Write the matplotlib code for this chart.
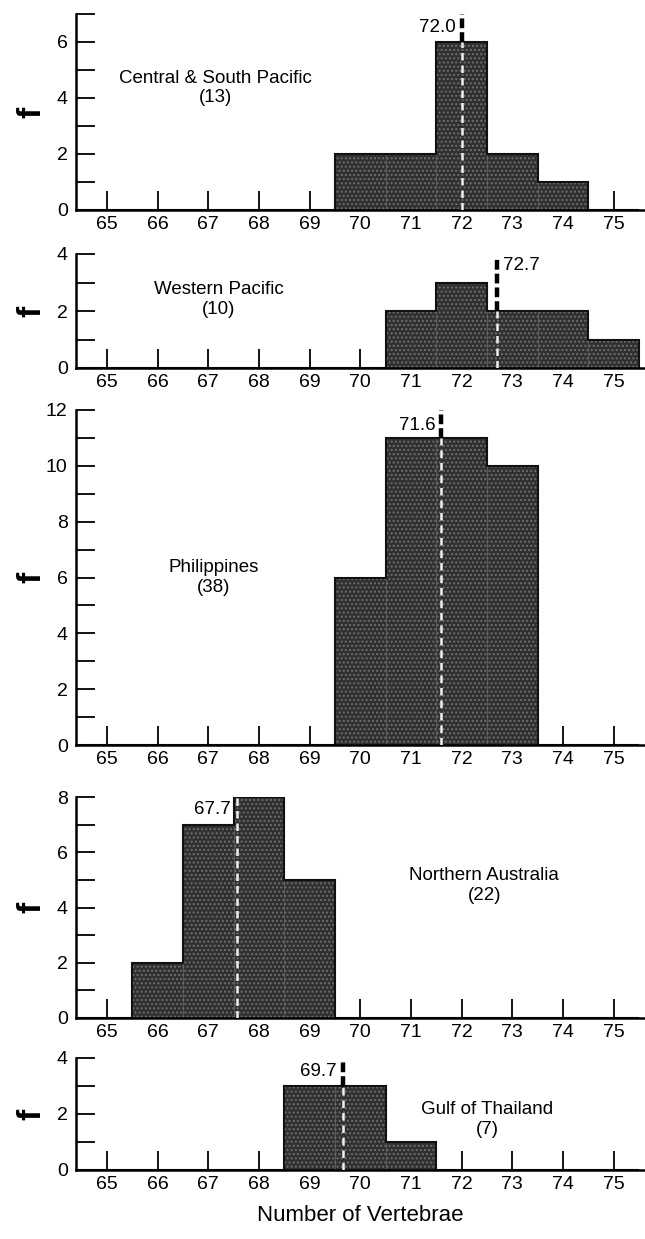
import matplotlib
matplotlib.use("Agg")
import matplotlib.pyplot as plt
import numpy as np

plt.rcParams['font.family'] = ['Liberation Sans', 'DejaVu Sans']

# ---- data ----
vertebrae = [65, 66, 67, 68, 69, 70, 71, 72, 73, 74, 75]
regions = ["Central & South Pacific", "Western Pacific", "Philippines",
           "Northern Australia", "Gulf of Thailand"]
sample_sizes = [13, 10, 38, 22, 7]
counts_central_south_pacific = [0, 0, 0, 0, 0, 2, 2, 6, 2, 1, 0]
counts_western_pacific = [0, 0, 0, 0, 0, 0, 2, 3, 2, 2, 1]
counts_philippines = [0, 0, 0, 0, 0, 6, 11, 11, 10, 0, 0]
counts_northern_australia = [0, 2, 7, 8, 5, 0, 0, 0, 0, 0, 0]
counts_gulf_of_thailand = [0, 0, 0, 0, 3, 3, 1, 0, 0, 0, 0]
means = [72.0, 72.7, 71.6, 67.7, 69.7]
mean_line_x = [72.0, 72.7, 71.6, 67.56, 69.65]
y_max = [7, 4, 12, 8, 4]

all_counts = [counts_central_south_pacific, counts_western_pacific,
              counts_philippines, counts_northern_australia,
              counts_gulf_of_thailand]

# ---- layout (figure fractions) ----
W, H = 645, 1239
fig = plt.figure(figsize=(W / 100, H / 100), dpi=100)
panel_px = [(14, 210), (254, 368), (410, 745), (797, 1018), (1058, 1170)]
left_px = 76

label_pos = [(67.15, 4.35), (67.2, 2.4), (67.1, 6.0), (72.45, 4.8), (72.5, 1.8)]
mean_lbl = [(6.5, 'right'), (3.6, 'left'), (11.45, 'right'), (7.55, 'right'), (3.5, 'right')]
line_top = [7.0, 3.85, 12.0, 8.0, 3.85]

bar_face = '#303030'
edges = np.arange(vertebrae[0] - 0.5, vertebrae[-1] + 1.0, 1.0)
for i in range(5):
    top, bot = panel_px[i]
    ax = fig.add_axes([left_px / W, (H - bot) / H, (W - left_px) / W, (bot - top) / H])
    ax.set_axisbelow(True)
    c = all_counts[i]
    ax.bar(vertebrae, c, width=1.0, color=bar_face, edgecolor='#5a5a5a',
           linewidth=0.6, zorder=2)
    ax.bar(vertebrae, c, width=1.0, facecolor='none', edgecolor='#6e6e6e',
           hatch='....', linewidth=0, zorder=2.1)
    ax.stairs(c, edges, baseline=0, fill=False, color='#111111', linewidth=1.5,
              zorder=2.2)
    mx = mean_line_x[i]
    idx = int(np.floor(mx + 0.5)) - vertebrae[0]
    h_in = c[idx]
    ax.plot([mx, mx], [0, h_in], color='#f0f0f0', lw=1.8, ls=(0, (3, 2)), zorder=3)
    ax.plot([mx, mx], [h_in, line_top[i]], color='black', lw=3.2, ls=(0, (2.2, 0.9)),
            zorder=3, clip_on=False)
    ly, ha = mean_lbl[i]
    dx = -0.12 if ha == 'right' else 0.12
    ax.text(mx + dx, ly, f"{means[i]:.1f}", ha=ha, va='center', fontsize=13.5)
    ax.text(label_pos[i][0], label_pos[i][1], f"{regions[i]}\n({sample_sizes[i]})",
            ha='center', va='center', fontsize=13.5, linespacing=1.2)

    ax.set_xlim(64.39, 75.62)
    ax.set_ylim(0, y_max[i])
    ax.set_xticks(vertebrae)
    ax.set_xticklabels([str(v) for v in vertebrae])
    ax.set_yticks(range(0, y_max[i] + 1))
    ax.set_yticklabels([str(v) if v % 2 == 0 else '' for v in range(0, y_max[i] + 1)])
    ax.tick_params(axis='both', direction='in', length=14, width=1.3, labelsize=14,
                   color='black')
    ax.tick_params(axis='x', pad=4)
    ax.tick_params(axis='y', pad=6)
    for s in ['top', 'right']:
        ax.spines[s].set_visible(False)
    for s in ['left', 'bottom']:
        ax.spines[s].set_linewidth(1.8)
    ax.set_ylabel('f', fontsize=24, fontweight='bold')
    ax.yaxis.set_label_coords(-0.05, 0.5)
    ax.patch.set_alpha(0)
    if i == 4:
        ax.set_xlabel('Number of Vertebrae', fontsize=16, labelpad=9)

fig.savefig('out.png', dpi=100)
